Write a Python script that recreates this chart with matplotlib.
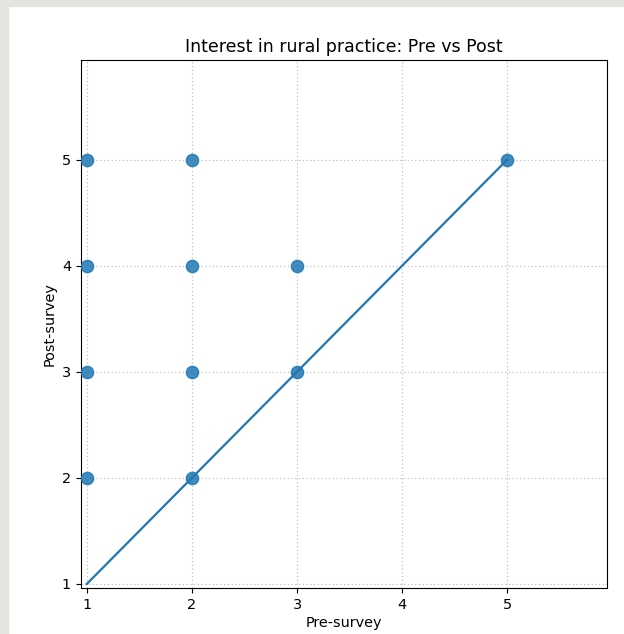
import matplotlib
matplotlib.use("Agg")
import matplotlib.pyplot as plt
from matplotlib.patches import Rectangle

# responses (pre, post)
pre = [1, 2, 5, 1, 2, 3, 1, 2, 3, 1, 2]
post = [5, 5, 5, 4, 4, 4, 3, 3, 3, 2, 2]
diag = [1, 5]
ticks = [1, 2, 3, 4, 5]

plt.rcParams["font.size"] = 10.4

fig = plt.figure(figsize=(6.24, 6.34), dpi=100)
W, H = 624, 634
# screenshot border
fig.patches.append(Rectangle((0, 0), 8 / W, 1, transform=fig.transFigure,
                             color="#e4e3df", zorder=-10))
fig.patches.append(Rectangle((0, 1 - 6 / H), 1, 6 / H, transform=fig.transFigure,
                             color="#e4e3df", zorder=-10))

ax = fig.add_axes([81 / W, 1 - 588 / H, (607 - 81) / W, (588 - 60) / H])
ax.scatter(pre, post, s=78, color="#1f77b4", alpha=0.85, zorder=3)
ax.plot(diag, diag, color="#1f77b4", lw=1.6, zorder=2)

ax.set_xlim(0.945, 5.95)
ax.set_ylim(0.962, 5.94)
ax.set_xticks(ticks)
ax.set_yticks(ticks)
ax.tick_params(length=3.7)
ax.grid(True, linestyle=(0, (1, 2)), color="#c0c0c0", linewidth=0.9)
ax.set_axisbelow(True)

ax.set_title("Interest in rural practice: Pre vs Post", fontsize=12.5, pad=6)
ax.set_xlabel("Pre-survey", labelpad=3)
ax.set_ylabel("Post-survey", labelpad=4)

fig.savefig("out.png", dpi=100)
